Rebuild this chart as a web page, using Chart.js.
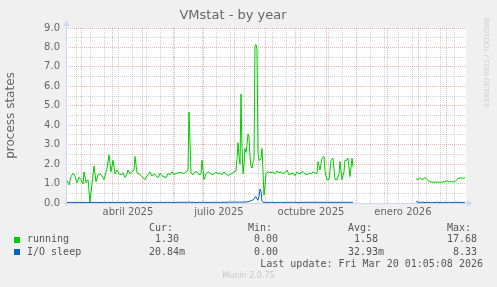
<!DOCTYPE html>
<html><head><meta charset="utf-8">
<script src="https://cdn.jsdelivr.net/npm/chart.js@4/dist/chart.umd.min.js"></script>
<style>
html,body{margin:0;padding:0;background:#f0f0f0;}
#wrap{position:relative;width:497px;height:287px;overflow:hidden;background:#f0f0f0;}
#c{position:absolute;left:0;top:0;}
.m{position:absolute;white-space:pre;font-family:"DejaVu Sans Mono",monospace;font-size:10px;line-height:12px;color:#555;}
.sw{position:absolute;width:6px;height:6px;}
.wm{position:absolute;white-space:pre;font-family:"DejaVu Sans",sans-serif;font-size:8px;line-height:10px;color:#c8c8c8;}
.rr{position:absolute;white-space:pre;font-family:"DejaVu Sans",sans-serif;font-size:7px;line-height:8px;color:#cfcfcf;transform:rotate(90deg);transform-origin:0 0;}
</style></head><body>
<div id="wrap"><canvas id="c" width="497" height="287"></canvas></div>
<script>
// ---- data (days since 2025-02-13 01:05 UTC) ----
const days = [
  0,3,5,7,9,11,13,15,17,18,
  20,22,24,26,28,30,32,34,36,38,
  40,41,43,45,47,49,51,53,55,57,
  59,61,62,64,66,68,69,71,73,75,
  77,79,81,83,84,86,88,90,92,94,
  96,98,100,102,104,106,108,110,112,114,
  116,118,120,122,123,125,127,129,131,133,
  135,136,138,140,142,144,146,148,150,152,
  154,156,158,160,162,164,166,168,170,171,
  172,173,174,175,176,177,178,179,180,181,
  182,183,184,185,186,187,188,189,190,191,
  192,193,194,195,196,197,198,199,200,201,
  203,205,207,209,211,213,215,217,219,221,
  223,225,227,229,231,233,235,237,239,241,
  243,245,247,249,251,252,254,256,258,259,
  261,263,265,267,269,271,273,274,276,278,
  279,281,282,284,286,287,290,350,352,354,
  356,358,359,361,363,365,367,369,371,373,
  375,377,379,381,383,385,387,389,391,393,
  395,397,399
];
const running = [
  1.25,0.93,1.35,1.53,1.38,1.05,1.33,1.20,0.98,1.60,
  1.05,1.20,0.05,1.00,1.90,1.10,1.45,1.50,1.40,1.20,
  1.60,1.80,2.48,1.60,2.20,1.50,1.70,1.50,1.45,1.55,
  1.32,1.50,1.70,1.50,1.62,1.70,2.39,1.55,1.50,1.42,
  1.30,1.20,1.40,1.50,1.60,1.38,1.50,1.40,1.30,1.53,
  1.40,1.35,1.30,1.52,1.45,1.60,1.45,1.52,1.55,1.56,
  1.55,1.52,1.60,1.70,4.68,1.55,1.45,1.60,1.60,1.45,
  1.50,2.20,1.20,1.50,1.60,1.55,1.45,1.50,1.60,1.50,
  1.55,1.45,1.60,1.50,1.42,1.45,1.52,1.60,1.65,2.30,
  3.10,2.40,2.00,5.60,2.80,1.50,2.00,2.80,2.60,3.00,
  3.55,3.40,2.40,1.90,1.80,2.10,2.20,8.10,8.15,7.90,
  2.60,2.20,2.20,2.30,2.80,1.60,0.40,0.90,1.50,1.58,
  1.60,1.55,1.60,1.50,1.65,1.55,1.60,1.50,1.55,1.70,
  1.45,1.50,1.55,1.40,1.60,1.50,1.55,1.62,1.50,1.45,
  1.55,1.50,1.60,1.55,1.50,2.13,1.70,2.30,2.40,1.60,
  1.19,1.20,2.20,2.30,1.20,1.20,1.50,2.13,1.20,1.60,
  2.20,2.20,2.30,1.36,2.30,1.87,null,1.25,1.20,1.30,
  1.20,1.25,1.32,1.20,1.12,1.08,1.07,1.08,1.07,1.07,
  1.07,1.08,1.10,1.15,1.08,1.10,1.08,1.10,1.22,1.27,
  1.30,1.27,1.30
];
const ioSleep = [
  0.03,0.02,0.04,0.02,0.03,0.02,0.04,0.02,0.03,0.02,
  0.04,0.02,0.03,0.02,0.03,0.04,0.02,0.03,0.02,0.04,
  0.02,0.03,0.04,0.02,0.03,0.02,0.04,0.03,0.02,0.03,
  0.04,0.02,0.03,0.04,0.03,0.02,0.04,0.03,0.04,0.02,
  0.03,0.04,0.03,0.02,0.04,0.03,0.02,0.04,0.03,0.04,
  0.03,0.02,0.04,0.03,0.04,0.03,0.02,0.04,0.03,0.04,
  0.03,0.04,0.03,0.04,0.05,0.03,0.04,0.02,0.03,0.04,
  0.03,0.04,0.03,0.04,0.02,0.03,0.04,0.03,0.04,0.03,
  0.04,0.03,0.04,0.03,0.04,0.05,0.04,0.05,0.04,0.05,
  0.05,0.04,0.05,0.04,0.05,0.04,0.05,0.06,0.05,0.06,
  0.07,0.08,0.10,0.12,0.15,0.15,0.20,0.30,0.32,0.20,
  0.15,0.35,0.72,0.60,0.10,0.04,0.03,0.03,0.04,0.03,
  0.03,0.04,0.03,0.02,0.04,0.03,0.04,0.03,0.02,0.04,
  0.03,0.04,0.03,0.04,0.03,0.02,0.04,0.03,0.04,0.03,
  0.04,0.03,0.04,0.03,0.04,0.03,0.04,0.03,0.04,0.03,
  0.04,0.03,0.04,0.03,0.04,0.03,0.04,0.03,0.04,0.03,
  0.04,0.03,0.04,0.03,0.04,0.03,null,0.08,0.04,0.03,
  0.04,0.03,0.02,0.04,0.03,0.01,0.02,0.03,0.04,0.03,
  0.02,0.04,0.03,0.02,0.04,0.03,0.02,0.04,0.03,0.04,
  0.03,0.02,0.02
];
const seriesNames = ['running', 'I/O sleep'];
const seriesColors = ['#00cc00', '#0066b3'];
const statHeaders = ['Cur:', 'Min:', 'Avg:', 'Max:'];
const statCur = ['1.30 ', '20.84m'];
const statMin = ['0.00 ', '0.00 '];
const statAvg = ['1.58 ', '32.93m'];
const statMax = ['17.68 ', '8.33 '];
const xLabelMonths = ['2025-04-01', '2025-07-01', '2025-10-01', '2026-01-01'];
const xTickLabels = ['abril 2025', 'julio 2025', 'octubre 2025', 'enero 2026'];
const titleText = 'VMstat - by year';
const yTitle = 'process states';
const lastUpdate = 'Last update: Fri Mar 20 01:05:08 2026';
const watermark = 'Munin 2.0.75';
const sideText = 'RRDTOOL / TOBI OETIKER';

// ---- x ticks from calendar ----
const START = Date.UTC(2025, 1, 13, 1, 5);
const DAY = 864e5;
const toDay = s => (Date.parse(s + 'T00:00:00Z') - START) / DAY;
const SPAN = 400;
const tickMap = new Map();
function addTick(v, type, txt) {
  if (v < 0 || v > SPAN) return;
  const k = v.toFixed(4);
  const prev = tickMap.get(k);
  if (prev && prev.type === 'major') return;
  tickMap.set(k, {value: v, type: type, txt: txt || ''});
}
for (let t = Date.UTC(2025, 1, 10); t <= START + SPAN * DAY; t += 14 * DAY) addTick((t - START) / DAY, 'minor');
for (let m = 0; m < 14; m++) addTick((Date.UTC(2025, 2 + m, 1) - START) / DAY, 'major');
xLabelMonths.forEach((s, i) => addTick(toDay(s) + 15, 'label', xTickLabels[i]));
const xTicks = [...tickMap.values()].sort((a, b) => a.value - b.value);

const MGRID = 'rgba(222,79,79,0.42)';
const GRID = 'rgba(143,143,143,0.38)';
const AXIS = '#CFD6F8';
const FONT = '#666666';

const deco = {
  id: 'deco',
  beforeDraw(chart) {
    const {ctx, chartArea: a} = chart;
    ctx.save();
    ctx.fillStyle = '#ffffff';
    ctx.fillRect(a.left, a.top, a.right - a.left, a.bottom - a.top);
    ctx.restore();
  },
  afterDraw(chart) {
    const {ctx, chartArea: a} = chart;
    ctx.save();
    ctx.strokeStyle = AXIS; ctx.fillStyle = AXIS; ctx.lineWidth = 1;
    const lx = Math.round(a.left) + 0.5, by = Math.round(a.bottom) + 0.5;
    ctx.beginPath();
    ctx.moveTo(lx, by + 3); ctx.lineTo(lx, a.top - 3);
    ctx.moveTo(lx - 3, by); ctx.lineTo(a.right + 2, by);
    ctx.stroke();
    ctx.beginPath();
    ctx.moveTo(lx, a.top - 8); ctx.lineTo(lx - 3, a.top - 2); ctx.lineTo(lx + 3, a.top - 2); ctx.closePath(); ctx.fill();
    ctx.beginPath();
    ctx.moveTo(a.right + 7, by); ctx.lineTo(a.right + 1, by - 3); ctx.lineTo(a.right + 1, by + 3); ctx.closePath(); ctx.fill();
    ctx.restore();
  }
};

const pts = arr => days.map((d, i) => ({x: d, y: arr[i]}));

new Chart(document.getElementById('c'), {
  type: 'line',
  data: {datasets: [
    {label: seriesNames[0], data: pts(running), borderColor: seriesColors[0], borderWidth: 1, pointRadius: 0, tension: 0, spanGaps: false, order: 1},
    {label: seriesNames[1], data: pts(ioSleep), borderColor: seriesColors[1], borderWidth: 1, pointRadius: 0, tension: 0, spanGaps: false, order: 0}
  ]},
  options: {
    responsive: false, animation: false, devicePixelRatio: 1,
    layout: {padding: {left: 0, right: 31, top: 0, bottom: 0}},
    plugins: {
      legend: {display: false}, tooltip: {enabled: false},
      title: {display: true, text: titleText, color: FONT, font: {family: 'DejaVu Sans', size: 13, weight: 'normal'}, padding: {top: 8.2, bottom: 4.2}}
    },
    scales: {
      x: {
        type: 'linear', min: 0, max: SPAN,
        afterBuildTicks(s) { s.ticks = xTicks.map(t => Object.assign({}, t)); },
        afterFit(s) { s.height = 84; },
        grid: {color: c => (c.tick && c.tick.type === 'major') ? MGRID : (c.tick && c.tick.type === 'minor') ? GRID : 'rgba(0,0,0,0)', lineWidth: 1, drawTicks: false},
        border: {display: false, dash: [1, 1]},
        ticks: {autoSkip: false, maxRotation: 0, minRotation: 0, padding: 3, color: FONT, font: {family: 'DejaVu Sans', size: 10},
          callback: (v, i, t) => (t[i] && t[i].txt) || ''}
      },
      y: {
        min: 0, max: 9,
        afterFit(s) { s.width = 66; },
        grid: {color: c => (c.tick && Number.isInteger(c.tick.value)) ? MGRID : GRID, lineWidth: 1, drawTicks: false},
        border: {display: false, dash: [1, 1]},
        ticks: {stepSize: 0.5, maxTicksLimit: 100, autoSkip: false, padding: 6, color: FONT, font: {family: 'DejaVu Sans', size: 10},
          callback: v => Number.isInteger(v) ? v.toFixed(1) : ''},
        title: {display: true, text: yTitle, color: FONT, font: {family: 'DejaVu Sans', size: 12}, padding: {top: 4, bottom: 0}}
      }
    }
  },
  plugins: [deco]
});

// ---- legend / stats as text ----
const wrap = document.getElementById('wrap');
function put(text, cls, pos) {
  const s = document.createElement('span');
  s.className = cls; s.textContent = text;
  for (const k in pos) s.style[k] = pos[k] + 'px';
  wrap.appendChild(s); return s;
}
const headerLeft = [149, 248, 348, 447];
statHeaders.forEach((h, i) => put(h, 'm', {left: headerLeft[i], top: 222}));
const rowTop = [233.3, 245.7];
const colRight = [185, 284, 384, 483];
seriesNames.forEach((n, r) => {
  const sw = document.createElement('div');
  sw.className = 'sw'; sw.style.background = seriesColors[r];
  sw.style.left = '14px'; sw.style.top = (rowTop[r] + 3.5) + 'px';
  wrap.appendChild(sw);
  put(n, 'm', {left: 27, top: rowTop[r]});
  [statCur, statMin, statAvg, statMax].forEach((col, c) => put(col[r], 'm', {right: 497 - colRight[c], top: rowTop[r]}));
});
put(lastUpdate, 'm', {right: 497 - 483, top: 257.7});
const w = put(watermark, 'wm', {left: 0, top: 271}); w.style.width = '497px'; w.style.textAlign = 'center';
put(sideText, 'rr', {left: 490, top: 18});
</script>
</body></html>
